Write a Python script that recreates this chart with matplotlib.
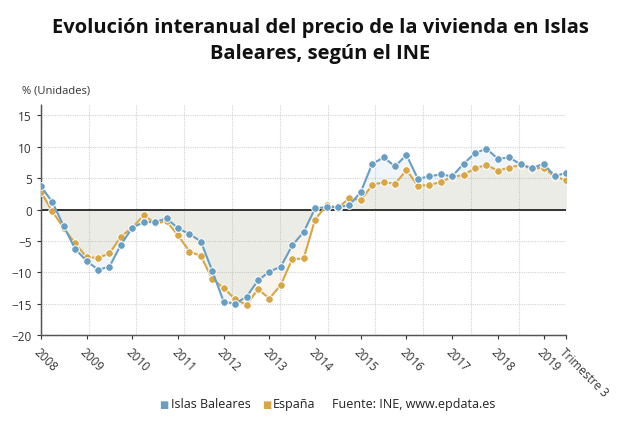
import numpy as np
import matplotlib
matplotlib.use('Agg')
import matplotlib.pyplot as plt

# Datos trimestrales 2008T1 - 2019T3 (% interanual)
baleares = [3.7, 1.2, -2.7, -6.3, -8.2, -9.6, -9.1, -5.6,
            -2.9, -2.0, -2.0, -1.4, -3.0, -3.9, -5.1, -9.8,
            -14.7, -15.0, -13.9, -11.3, -9.9, -9.1, -5.7, -3.6,
            0.2, 0.4, 0.4, 0.7, 2.8, 7.3, 8.3, 6.9,
            8.7, 4.9, 5.3, 5.6, 5.3, 7.3, 9.0, 9.7,
            8.1, 8.3, 7.2, 6.6, 7.3, 5.3, 5.9]
espana = [2.8, -0.3, -3.0, -5.4, -7.6, -7.7, -7.0, -4.3,
          -2.9, -0.9, -2.2, -1.9, -4.1, -6.7, -7.4, -11.1,
          -12.5, -14.3, -15.2, -12.7, -14.2, -12.0, -7.9, -7.8,
          -1.6, 0.7, 0.3, 1.8, 1.5, 3.9, 4.4, 4.1,
          6.3, 3.8, 3.9, 4.4, 5.2, 5.5, 6.6, 7.1,
          6.2, 6.7, 7.1, 6.5, 6.7, 5.2, 4.7]
tick_labels = ['2008', '2009', '2010', '2011', '2012', '2013', '2014',
               '2015', '2016', '2017', '2018', '2019', 'Trimestre 3']
tick_pos = [0, 4, 8, 12, 16, 20, 24, 28, 32, 36, 40, 44, 46]

AZUL = '#6a9ec0'
NARANJA = '#d6a64c'

plt.rcParams['font.family'] = ['Open Sans', 'DejaVu Sans']

fig = plt.figure(figsize=(6.4, 4.31), dpi=100)
ax = fig.add_axes([0.064, 0.2204, 0.821, 0.5356])

x = np.arange(len(baleares))

# areas hasta cero
ax.fill_between(x, baleares, 0, color=AZUL, alpha=0.1, lw=0, zorder=1)
ax.fill_between(x, espana, 0, color=NARANJA, alpha=0.1, lw=0, zorder=1)

# rejilla
for v in np.arange(-20, 16, 5):
    ax.axhline(v, color='#d4d4d4', lw=0.8, ls=(0, (1, 1)), zorder=0)
for v in np.linspace(0, 46, 12):
    ax.axvline(v, color='#d4d4d4', lw=0.8, ls=(0, (1, 1)), zorder=0)
ax.axhline(0, color='#333333', lw=1.4, zorder=2)

ax.plot(x, baleares, color=AZUL, lw=1.5, marker='o', ms=5.5,
        mec='white', mew=0.7, zorder=4)
ax.plot(x, espana, color=NARANJA, lw=1.5, marker='o', ms=5.5,
        mec='white', mew=0.7, zorder=3)

ax.set_xlim(0, 46)
ax.set_ylim(-20, 16.8)
ax.set_yticks(np.arange(-20, 16, 5))
ax.set_xticks(tick_pos)
ax.set_xticklabels(tick_labels, rotation=-45, ha='left', va='top',
                   rotation_mode='anchor')
ax.tick_params(axis='both', labelsize=8.5, colors='#333333', length=3,
               width=0.8, labelcolor='#333333')
ax.tick_params(axis='x', pad=4, labelsize=8.5)

for s in ['top', 'right']:
    ax.spines[s].set_visible(False)
for s in ['left', 'bottom']:
    ax.spines[s].set_color('#555555')
    ax.spines[s].set_linestyle((0, (1, 0.6)))
    ax.spines[s].set_linewidth(1.0)

fig.text(0.5, 0.905, 'Evolución interanual del precio de la vivienda en Islas\nBaleares, según el INE',
         ha='center', va='center', fontsize=14.5, fontweight='bold',
         color='#111111', linespacing=1.35)
fig.text(0.034, 0.79, '% (Unidades)', fontsize=8, color='#333333',
         ha='left', va='center')

# leyenda
ly = 1 - 405 / 431
fig.text(164 / 640, ly, '■', color=AZUL, fontsize=7, ha='center', va='center',
         family=['DejaVu Sans'])
fig.text(171 / 640, ly, 'Islas Baleares', fontsize=9, color='#222222',
         ha='left', va='center')
fig.text(267 / 640, ly, '■', color=NARANJA, fontsize=7, ha='center', va='center',
         family=['DejaVu Sans'])
fig.text(273 / 640, ly, 'España', fontsize=9, color='#222222',
         ha='left', va='center')
fig.text(332 / 640, ly, 'Fuente: INE, www.epdata.es', fontsize=9,
         color='#222222', ha='left', va='center')

fig.savefig('out.png', dpi=100)
